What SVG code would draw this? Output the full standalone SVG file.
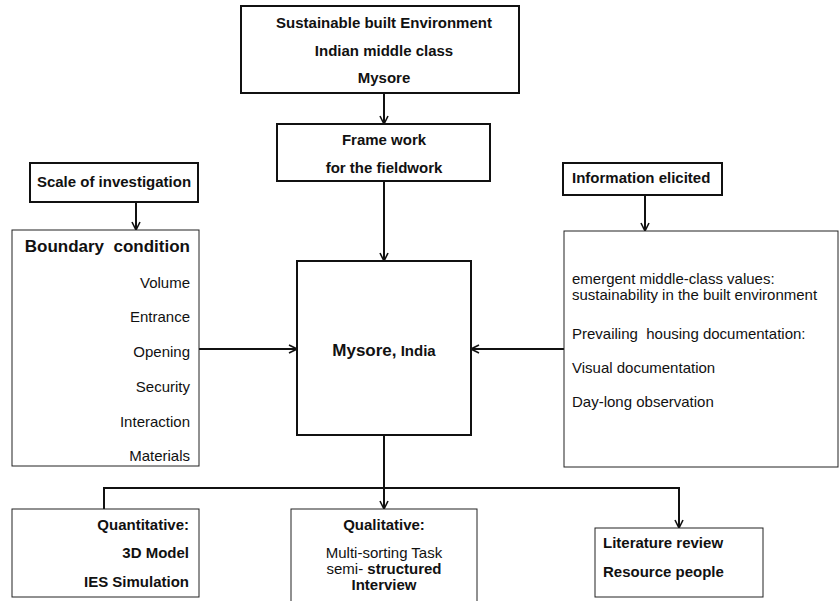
<svg xmlns="http://www.w3.org/2000/svg" width="839" height="601" viewBox="0 0 839 601">
<style>
.thick{fill:#fff;stroke:#111;stroke-width:2}
.thin{fill:#fff;stroke:#222;stroke-width:1}
text{font-family:"Liberation Sans",Arial,sans-serif;fill:#111}
.b{font-weight:bold;font-size:15px}
.r{font-size:15px}
.c{text-anchor:middle}
.e{text-anchor:end}
.con{fill:none;stroke:#111;stroke-width:2}
</style>
<defs>
<marker id="arr" viewBox="0 0 10 10" refX="9" refY="5" markerWidth="10" markerHeight="10" markerUnits="userSpaceOnUse" orient="auto">
<path d="M1,1 L9,5 L1,9" fill="none" stroke="#111" stroke-width="1.6"/>
</marker>
</defs>
<g id="connectors">
<path class="con" d="M384,93 V124" marker-end="url(#arr)"/>
<path class="con" d="M384,181 V261" marker-end="url(#arr)"/>
<path class="con" d="M136,202 V230" marker-end="url(#arr)"/>
<path class="con" d="M645,195 V231" marker-end="url(#arr)"/>
<path class="con" d="M199,349 H297" marker-end="url(#arr)"/>
<path class="con" d="M564,349 H471" marker-end="url(#arr)"/>
<path class="con" d="M384,435 V509" marker-end="url(#arr)"/>
<path class="con" d="M104,509 V488 H679 V528" marker-end="url(#arr)"/>
</g>
<g id="top">
<rect class="thick" x="241" y="6" width="278" height="87"/>
<text class="b c" x="384" y="28">Sustainable built Environment</text>
<text class="b c" x="384" y="56">Indian middle class</text>
<text class="b c" x="384" y="83">Mysore</text>
</g>
<g id="frame">
<rect class="thick" x="277" y="124" width="213" height="57"/>
<text class="b c" x="384" y="145">Frame work</text>
<text class="b c" x="384" y="173">for the fieldwork</text>
</g>
<g id="scale">
<rect class="thick" x="30" y="163" width="168" height="39"/>
<text class="b c" x="114" y="187">Scale of investigation</text>
</g>
<g id="info">
<rect class="thick" x="563" y="163" width="159" height="32"/>
<text class="b" x="572" y="183">Information elicited</text>
</g>
<g id="boundary">
<rect class="thin" x="12" y="230" width="187" height="236"/>
<text class="e" x="190" y="252" font-weight="bold" font-size="17" xml:space="preserve">Boundary  condition</text>
<text class="r e" x="190" y="288">Volume</text>
<text class="r e" x="190" y="322">Entrance</text>
<text class="r e" x="190" y="357">Opening</text>
<text class="r e" x="190" y="392">Security</text>
<text class="r e" x="190" y="427">Interaction</text>
<text class="r e" x="190" y="461">Materials</text>
</g>
<g id="infobox">
<rect class="thin" x="564" y="231" width="274" height="236"/>
<text class="r" x="572" y="284">emergent middle-class values:</text>
<text class="r" x="572" y="300">sustainability in the built environment</text>
<text class="r" x="572" y="339" xml:space="preserve">Prevailing  housing documentation:</text>
<text class="r" x="572" y="373">Visual documentation</text>
<text class="r" x="572" y="407">Day-long observation</text>
</g>
<g id="mysore">
<rect class="thick" x="297" y="261" width="174" height="174"/>
<text class="c" x="384" y="356" font-weight="bold"><tspan font-size="17">Mysore,</tspan><tspan font-size="15"> India</tspan></text>
</g>
<g id="quant">
<rect class="thin" x="12" y="509" width="187" height="88"/>
<text class="b e" x="189" y="530">Quantitative:</text>
<text class="b e" x="189" y="558">3D Model</text>
<text class="b e" x="189" y="587">IES Simulation</text>
</g>
<g id="qual">
<rect class="thin" x="291" y="509" width="186" height="100"/>
<text class="b c" x="384" y="530">Qualitative:</text>
<text class="r c" x="384" y="558">Multi-sorting Task</text>
<text class="r c" x="384" y="574">semi- <tspan font-weight="bold">structured</tspan></text>
<text class="b c" x="384" y="590">Interview</text>
</g>
<g id="lit">
<rect class="thin" x="595" y="528" width="168" height="69"/>
<text class="b" x="603" y="548">Literature review</text>
<text class="b" x="603" y="577">Resource people</text>
</g>
</svg>
